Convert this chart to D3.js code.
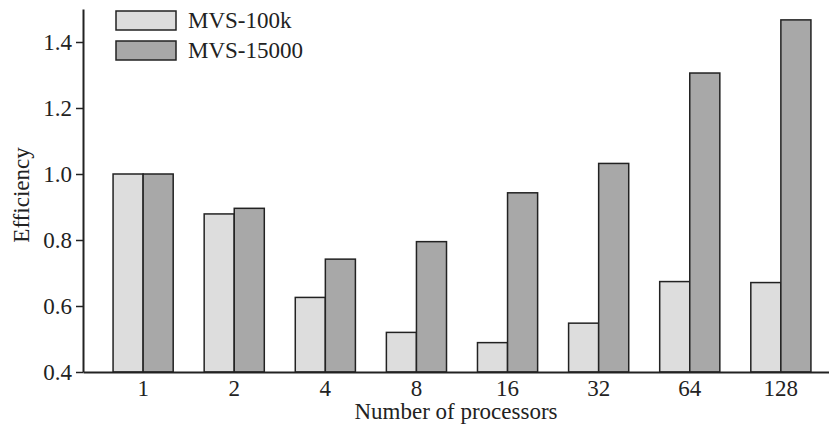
<!DOCTYPE html>
<html>
<head>
<meta charset="utf-8">
<script src="https://cdn.jsdelivr.net/npm/d3@7"></script>
<style>
  body { margin: 0; background: #fff; }
  text { font-family: "Liberation Serif", "Times New Roman", serif; fill: #222; }
</style>
</head>
<body>
<div id="chart"></div>
<script>
var processors = ["1", "2", "4", "8", "16", "32", "64", "128"];
var seriesNames = ["MVS-100k", "MVS-15000"];
var mvs100k = [1.0, 0.879, 0.626, 0.52, 0.489, 0.548, 0.674, 0.671];
var mvs15000 = [1.0, 0.896, 0.742, 0.795, 0.943, 1.032, 1.306, 1.467];
var yTicks = [0.4, 0.6, 0.8, 1.0, 1.2, 1.4];
var fills = ["#dddddd", "#a8a8a8"];

var width = 829, height = 430;
var marginLeft = 83, plotBottom = 372, plotTop = 9;

var svg = d3.select("#chart")
  .append("svg")
  .attr("width", width)
  .attr("height", height);

var x = d3.scaleBand()
  .domain(processors)
  .range([marginLeft, 841])
  .paddingInner(0.34)
  .paddingOuter(0.33);

var xSub = d3.scaleBand()
  .domain(seriesNames)
  .range([0, x.bandwidth()]);

var y = d3.scaleLinear()
  .domain([0.4, 1.5])
  .range([plotBottom, plotTop]);

var rows = processors.map(function(p, i) {
  return { p: p, values: [mvs100k[i], mvs15000[i]] };
});

var group = svg.selectAll("g.grp")
  .data(rows)
  .enter()
  .append("g")
  .attr("class", "grp")
  .attr("transform", function(d) { return "translate(" + x(d.p) + ",0)"; });

group.selectAll("rect")
  .data(function(d) { return d.values.map(function(v, j) { return { v: v, s: seriesNames[j], j: j }; }); })
  .enter()
  .append("rect")
  .attr("x", function(d) { return xSub(d.s); })
  .attr("y", function(d) { return y(d.v); })
  .attr("width", xSub.bandwidth())
  .attr("height", function(d) { return y(0.4) - y(d.v); })
  .attr("fill", function(d) { return fills[d.j]; })
  .attr("stroke", "#222")
  .attr("stroke-width", 1.5);

// y axis
var yAxis = svg.append("g")
  .attr("transform", "translate(" + marginLeft + ",0)")
  .call(d3.axisLeft(y).tickValues(yTicks).tickFormat(d3.format(".1f")).tickSize(7).tickSizeOuter(0).tickPadding(4));
yAxis.select(".domain").attr("stroke", "#222").attr("stroke-width", 2);
yAxis.selectAll(".tick line").attr("stroke", "#222").attr("stroke-width", 1.5);
yAxis.selectAll("text").attr("font-size", 23).attr("font-family", "Liberation Serif").attr("fill", "#222");

// x axis
var xAxis = svg.append("g")
  .attr("transform", "translate(0," + plotBottom + ")")
  .call(d3.axisBottom(x).tickSize(0).tickSizeOuter(0).tickPadding(8));
xAxis.select(".domain").attr("stroke", "#222").attr("stroke-width", 2);
xAxis.selectAll("text").attr("font-size", 23).attr("font-family", "Liberation Serif").attr("fill", "#222");

svg.append("text")
  .attr("x", 456)
  .attr("y", 419)
  .attr("text-anchor", "middle")
  .attr("font-size", 23)
  .text("Number of processors");

svg.append("text")
  .attr("transform", "translate(29,195) rotate(-90)")
  .attr("text-anchor", "middle")
  .attr("font-size", 23)
  .text("Efficiency");

// legend
var legend = svg.selectAll("g.leg")
  .data(seriesNames)
  .enter()
  .append("g")
  .attr("class", "leg")
  .attr("transform", function(d, i) { return "translate(116," + (11 + i * 30) + ")"; });

legend.append("rect")
  .attr("width", 60)
  .attr("height", 19)
  .attr("fill", function(d, i) { return fills[i]; })
  .attr("stroke", "#222")
  .attr("stroke-width", 1.5);

legend.append("text")
  .attr("x", 72)
  .attr("y", 17)
  .attr("font-size", 23)
  .text(function(d) { return d; });
</script>
</body>
</html>
